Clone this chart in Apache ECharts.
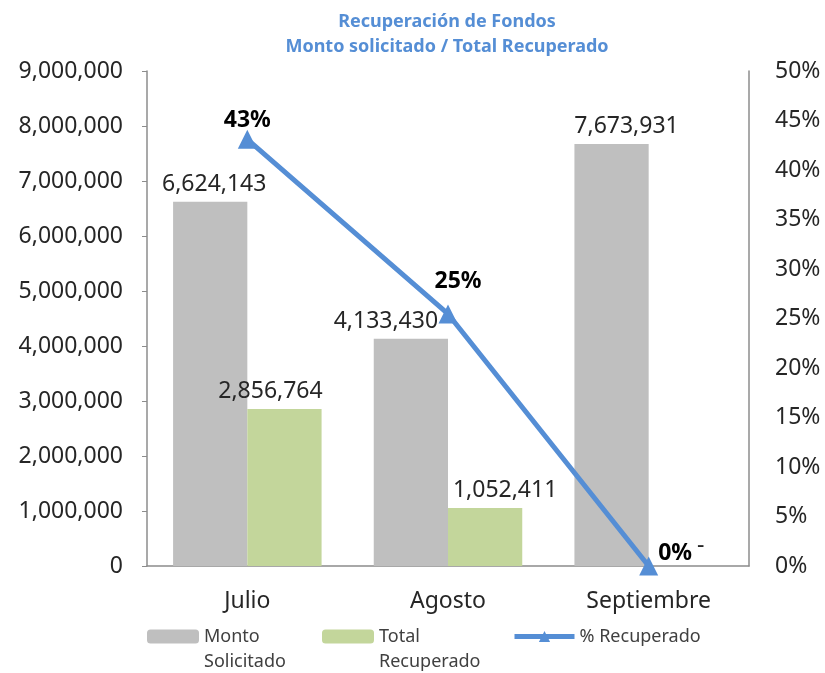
<!DOCTYPE html>
<html>
<head>
<meta charset="utf-8">
<script src="https://cdn.jsdelivr.net/npm/echarts@6/dist/echarts.min.js"></script>
<style>
  html, body { margin: 0; padding: 0; background: #fff; }
  #chart { width: 825px; height: 673px; }
</style>
</head>
<body>
<div id="chart"></div>
<script>
// datos
const meses = ['Julio', 'Agosto', 'Septiembre'];
const montoSolicitado = [6624143, 4133430, 7673931];
const totalRecuperado = [2856764, 1052411, 0];
const pctRecuperado = [0.431, 0.2546, 0];

// desplazamientos de etiquetas (como en el original de Excel)
const montoOffsets = [[4, 0], [-25, 0], [15, 0]];
const totalOffsets = [[-14, 0], [20, 0], [15, -3]];
const pctLabels = [
  { position: 'top', distance: -2, offset: [0, 0] },
  { position: 'top', distance: 11, offset: [10, 0] },
  { position: 'right', distance: 0, offset: [0, -13] }
];

const fmt = v => String(v).replace(/\B(?=(\d{3})+(?!\d))/g, ',');
const font = 'Noto Sans';
const azul = '#558ED5';

const chart = echarts.init(document.getElementById('chart'));

const legendBase = {
  padding: 0,
  itemHeight: 14,
  itemWidth: 52,
  textStyle: { fontFamily: font, fontSize: 18, color: '#404040', lineHeight: 25 },
  selectedMode: false
};

chart.setOption({
  animation: false,
  title: {
    text: 'Recuperación de Fondos\nMonto solicitado / Total Recuperado',
    left: 447,
    textAlign: 'center',
    top: 9,
    padding: 0,
    textStyle: { fontFamily: font, fontSize: 18, fontWeight: 'bold', color: azul, lineHeight: 25 }
  },
  grid: { left: 147, right: 76, top: 71, bottom: 107 },
  legend: [
    Object.assign({}, legendBase, {
      data: ['Monto Solicitado'], left: 147, top: 599,
      formatter: ' \nMonto\nSolicitado'
    }),
    Object.assign({}, legendBase, {
      data: ['Total Recuperado'], left: 322, top: 599,
      formatter: ' \nTotal\nRecuperado'
    }),
    Object.assign({}, legendBase, {
      data: [{ name: '% Recuperado', lineStyle: { width: 5 } }], left: 512, top: 624, itemWidth: 60,
      lineStyle: { width: 5 }
    })
  ],
  xAxis: {
    type: 'category',
    data: meses,
    axisLine: { lineStyle: { color: '#8c8c8c', width: 1.5 } },
    axisTick: { show: false },
    axisLabel: { fontFamily: font, fontSize: 23, color: '#262626', margin: 24 }
  },
  yAxis: [
    {
      type: 'value',
      min: 0, max: 9000000, interval: 1000000,
      splitLine: { show: false },
      axisLine: { show: true, lineStyle: { color: '#8c8c8c', width: 1.5 } },
      axisTick: { show: true, length: 5, lineStyle: { color: '#8c8c8c' } },
      axisLabel: { fontFamily: font, fontSize: 23, color: '#262626', margin: 24, formatter: v => fmt(v) }
    },
    {
      type: 'value',
      min: 0, max: 0.5, interval: 0.05,
      splitLine: { show: false },
      axisLine: { show: true, lineStyle: { color: '#8c8c8c', width: 1.5 } },
      axisTick: { show: false },
      axisLabel: { fontFamily: font, fontSize: 23, color: '#262626', margin: 26, formatter: v => Math.round(v * 100) + '%' }
    }
  ],
  series: [
    {
      name: 'Monto Solicitado',
      type: 'bar',
      barGap: '0%',
      barCategoryGap: '26%',
      itemStyle: { color: '#BFBFBF' },
      label: { show: true, position: 'top', distance: 6, fontFamily: font, fontSize: 23, color: '#262626', formatter: p => fmt(p.value) },
      data: montoSolicitado.map((v, i) => ({ value: v, label: { offset: montoOffsets[i] } }))
    },
    {
      name: 'Total Recuperado',
      type: 'bar',
      itemStyle: { color: '#C3D69B' },
      label: { show: true, position: 'top', distance: 6, fontFamily: font, fontSize: 23, color: '#262626', formatter: p => p.value === 0 ? '-' : fmt(p.value) },
      data: totalRecuperado.map((v, i) => ({ value: v, label: { offset: totalOffsets[i] } }))
    },
    {
      name: '% Recuperado',
      type: 'line',
      yAxisIndex: 1,
      z: 5,
      symbol: 'triangle',
      symbolSize: 19,
      lineStyle: { color: azul, width: 5 },
      itemStyle: { color: azul },
      label: { show: true, fontFamily: font, fontSize: 23, fontWeight: 'bold', color: '#000', formatter: p => Math.round(p.value * 100) + '%' },
      data: pctRecuperado.map((v, i) => ({ value: v, label: pctLabels[i] }))
    }
  ]
});
</script>
</body>
</html>
